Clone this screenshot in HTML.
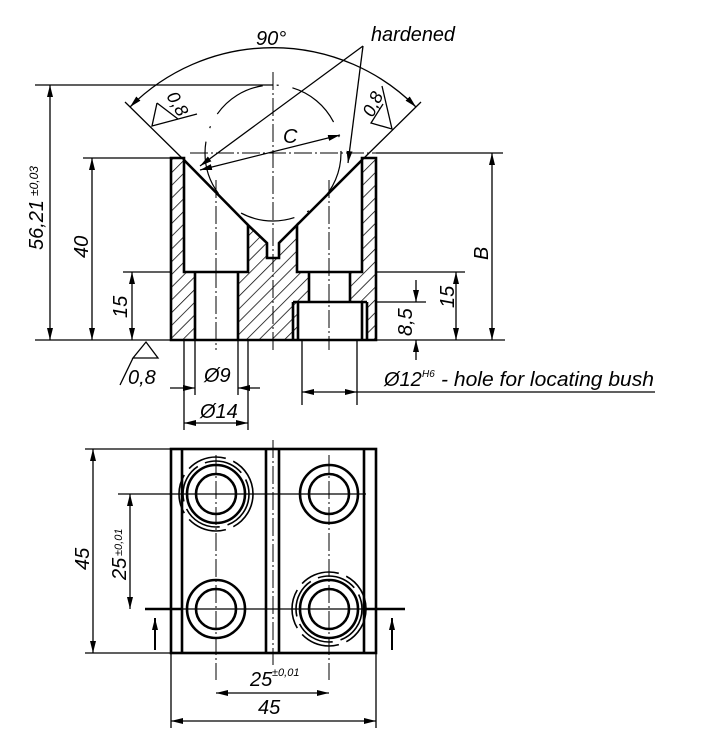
<!DOCTYPE html>
<html><head><meta charset="utf-8"><style>
html,body{margin:0;padding:0;background:#fff}
svg{display:block}
text{font-family:"Liberation Sans",sans-serif;font-style:italic;fill:#000}
</style></head><body>
<svg width="724" height="750" viewBox="0 0 724 750" xmlns="http://www.w3.org/2000/svg">
<defs>
<pattern id="h" width="9" height="9" patternUnits="userSpaceOnUse" patternTransform="rotate(45)">
<line x1="0" y1="0" x2="0" y2="9" stroke="#000" stroke-width="1.5"/>
</pattern>
<marker id="a" markerWidth="12" markerHeight="6" refX="12" refY="3" orient="auto-start-reverse" markerUnits="userSpaceOnUse">
<path d="M0,0 L12,3 L0,6 Z" fill="#000"/>
</marker>
</defs>
<g fill="none" stroke="#000" stroke-width="1.3">
<g fill="url(#h)" stroke="none">
<path d="M171,158 H184 V272 H195 V340 H171 Z"/>
<path d="M248,225 L267,243 V258 H279 V243 L297,225 V272 H309 V302 H293 V340 H238 V272 H248 Z"/>
<path d="M362,158 H376 V340 H367 V302 H350 V272 H362 Z"/>
<path d="M293,302 H298 V340 H293 Z"/>
</g>
<g stroke-width="2.6">
<path d="M171,158 H184 V272 H248 V225 L267,243 V258 H279 V243 L297,225 V272 H362 V158 H376 V340 H171 Z"/>
<path d="M184,160 L248,225 M297,225 L362,160"/>
<path d="M195,272 V340 M238,272 V340"/>
<path d="M309,272 V302 M350,272 V302 M293,302 H367 M293,302 V340 M367,302 V340 M298,302 V340 M362,302 V340"/>
</g>
<g stroke-dasharray="18,3,2,3" stroke-width="1">
<path d="M273,72 V350"/>
<path d="M190,153 H380"/>
<path d="M216,270 V350 M216,180 V272"/>
<path d="M329,180 V350"/>
</g>
<circle cx="273" cy="153" r="68" stroke-dasharray="55,14,2,14" stroke-width="1.2"/>
<path d="M35,85 H273 M83,158 H171 M123,272 H171 M35,340 H171"/>
<path d="M376,153 H503 M376,272 H465 M376,302 H426 M376,340 H505"/>
<path d="M184,340 V430 M248,340 V430 M195,340 V395 M238,340 V395 M302,340 V405 M357,340 V405"/>
<path d="M50,85 V340" marker-start="url(#a)" marker-end="url(#a)"/>
<path d="M92,158 V340" marker-start="url(#a)" marker-end="url(#a)"/>
<path d="M132,272 V340" marker-start="url(#a)" marker-end="url(#a)"/>
<path d="M492,153 V340" marker-start="url(#a)" marker-end="url(#a)"/>
<path d="M456,272 V340" marker-start="url(#a)" marker-end="url(#a)"/>
<path d="M416,280 V302" marker-end="url(#a)"/>
<path d="M416,360 V340" marker-end="url(#a)"/>
<path d="M170,388 H195" marker-end="url(#a)"/>
<path d="M260,388 H238" marker-end="url(#a)"/>
<path d="M184,423 H248" marker-start="url(#a)" marker-end="url(#a)"/>
<path d="M302,392 H357" marker-start="url(#a)" marker-end="url(#a)"/>
<path d="M357,392 H655"/>
<path d="M130,107 A202,202 0 0 1 416,107" marker-start="url(#a)" marker-end="url(#a)"/>
<path d="M125,102 L184,160 M421,102 L362,160"/>
<path d="M200,170 L340,135" marker-start="url(#a)" marker-end="url(#a)"/>
<path d="M363,46 L200,166" marker-end="url(#a)"/>
<path d="M363,46 L348,163" marker-end="url(#a)"/>
<path d="M157,103 L152,126 L197,114 M157,103 L178,119"/>
<path d="M382,86 L392,129 L371,123 L383,104"/>
<path d="M133,358 L158,358 L146,342 Z M133,358 L120,385"/>
<g stroke-width="2.6">
<rect x="171" y="449" width="205" height="204"/>
<path d="M182,449 V653 M266,449 V653 M279,449 V653 M364,449 V653"/>
<circle cx="216" cy="494" r="29"/><circle cx="216" cy="494" r="20"/>
<circle cx="329" cy="494" r="29"/><circle cx="329" cy="494" r="20"/>
<circle cx="216" cy="609" r="29"/><circle cx="216" cy="609" r="20"/>
<circle cx="329" cy="609" r="29"/><circle cx="329" cy="609" r="20"/>
</g>
<g stroke-width="1.6" stroke-dasharray="40,8">
<circle cx="216" cy="494" r="33"/><circle cx="216" cy="494" r="37"/>
<circle cx="329" cy="609" r="33"/><circle cx="329" cy="609" r="37"/>
</g>
<g stroke-dasharray="18,3,2,3" stroke-width="1">
<path d="M273,440 V665"/>
<path d="M216,455 V680 M329,455 V680"/>
</g>
<path d="M118,494 H366"/>
<path d="M145,609 H405"/>
<path d="M145,609 H183 M365,609 H405" stroke-width="2.6"/>
<path d="M155,650 V618" marker-end="url(#a)" stroke-width="2"/>
<path d="M392,650 V618" marker-end="url(#a)" stroke-width="2"/>
<path d="M85,449 H171 M85,653 H171"/>
<path d="M93,449 V653" marker-start="url(#a)" marker-end="url(#a)"/>
<path d="M130,494 V609" marker-start="url(#a)" marker-end="url(#a)"/>
<path d="M171,653 V728 M376,653 V728"/>
<path d="M216,693 H329" marker-start="url(#a)" marker-end="url(#a)"/>
<path d="M171,721 H376" marker-start="url(#a)" marker-end="url(#a)"/>
</g>
<text x="256" y="45" font-size="20">90°</text>
<text x="371" y="41" font-size="20" textLength="84" lengthAdjust="spacingAndGlyphs">hardened</text>
<text x="283" y="143" font-size="20">C</text>
<text x="0" y="0" font-size="18" transform="translate(166,96) rotate(60)">0,8</text>
<text x="0" y="0" font-size="18" transform="translate(373,118) rotate(-65)">0,8</text>
<text x="0" y="0" font-size="20" transform="translate(43,250) rotate(-90)">56,21</text>
<text x="0" y="0" font-size="12" transform="translate(38,196) rotate(-90)">±0,03</text>
<text x="0" y="0" font-size="20" transform="translate(88,258) rotate(-90)">40</text>
<text x="0" y="0" font-size="20" transform="translate(127,318) rotate(-90)">15</text>
<text x="0" y="0" font-size="20" transform="translate(488,260) rotate(-90)">B</text>
<text x="0" y="0" font-size="20" transform="translate(454,308) rotate(-90)">15</text>
<text x="0" y="0" font-size="20" transform="translate(412,336) rotate(-90)">8,5</text>
<text x="128" y="384" font-size="20">0,8</text>
<text x="204" y="382" font-size="20">Ø9</text>
<text x="200" y="418" font-size="20">Ø14</text>
<text x="384" y="386" font-size="20">Ø12</text>
<text x="422" y="377" font-size="10">H6</text>
<text x="441" y="386" font-size="20" textLength="213" lengthAdjust="spacingAndGlyphs">- hole for locating bush</text>
<text x="0" y="0" font-size="20" transform="translate(89,570) rotate(-90)">45</text>
<text x="0" y="0" font-size="20" transform="translate(126,580) rotate(-90)">25</text>
<text x="0" y="0" font-size="11" transform="translate(122,556) rotate(-90)">±0,01</text>
<text x="250" y="686" font-size="20">25</text>
<text x="272" y="676" font-size="11">±0,01</text>
<text x="258" y="714" font-size="20">45</text>
</svg>
</body></html>
